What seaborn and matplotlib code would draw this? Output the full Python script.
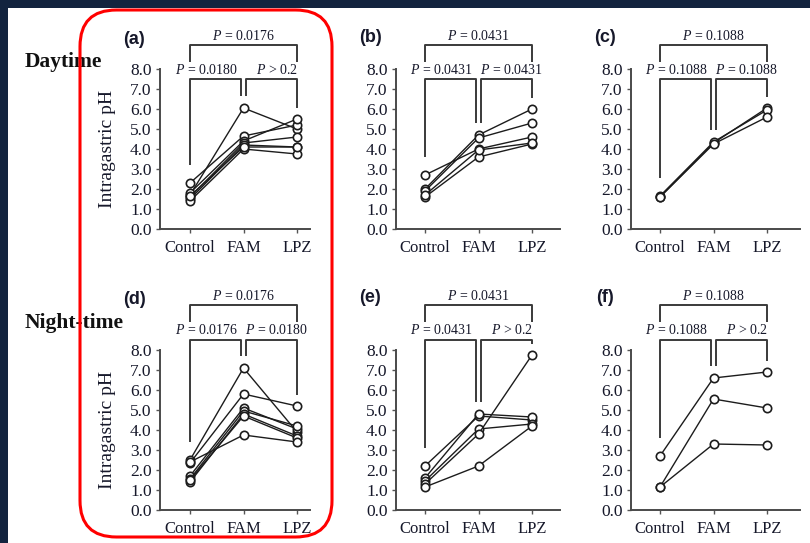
import matplotlib
matplotlib.use("Agg")
import matplotlib.pyplot as plt
import seaborn as sns
import pandas as pd
from matplotlib.patches import FancyBboxPatch, Rectangle

# ---------------- data ----------------
categories = ["Control", "FAM", "LPZ"]
y_ticks = [0, 1, 2, 3, 4, 5, 6, 7, 8]

# (a) Daytime, n=7
a_control = [1.7, 2.3, 1.8, 1.6, 1.5, 1.4, 1.65]
a_fam = [6.05, 4.65, 4.4, 4.3, 4.2, 4.0, 4.1]
a_lpz = [5.0, 5.2, 5.5, 4.6, 4.1, 3.75, 4.1]
# (b) Daytime, n=5
b_control = [2.7, 2.0, 1.9, 1.6, 1.7]
b_fam = [4.0, 4.7, 4.55, 3.6, 3.95]
b_lpz = [4.6, 6.0, 5.3, 4.25, 4.3]
# (c) Daytime, n=3
c_control = [1.6, 1.65, 1.6]
c_fam = [4.3, 4.35, 4.25]
c_lpz = [6.05, 5.95, 5.6]
# (d) Night-time, n=7
d_control = [2.5, 2.35, 1.7, 1.55, 1.4, 1.5, 2.4]
d_fam = [7.1, 5.8, 5.1, 4.95, 4.8, 4.7, 3.75]
d_lpz = [3.9, 5.2, 4.05, 4.2, 3.7, 3.6, 3.4]
# (e) Night-time, n=5
e_control = [2.2, 1.6, 1.45, 1.3, 1.15]
e_fam = [4.7, 4.8, 4.05, 3.8, 2.2]
e_lpz = [4.5, 4.65, 4.3, 7.75, 4.2]
# (f) Night-time, n=3
f_control = [2.7, 1.15, 1.15]
f_fam = [6.6, 5.55, 3.3]
f_lpz = [6.9, 5.1, 3.25]

# p-value labels: [Control vs LPZ, Control vs FAM, FAM vs LPZ]
a_p = ["= 0.0176", "= 0.0180", "> 0.2"]
b_p = ["= 0.0431", "= 0.0431", "= 0.0431"]
c_p = ["= 0.1088", "= 0.1088", "= 0.1088"]
d_p = ["= 0.0176", "= 0.0176", "= 0.0180"]
e_p = ["= 0.0431", "= 0.0431", "> 0.2"]
f_p = ["= 0.1088", "= 0.1088", "> 0.2"]

panel_labels = ["(a)", "(b)", "(c)", "(d)", "(e)", "(f)"]
row_labels = ["Daytime", "Night-time"]
y_label = "Intragastric pH"

panels = [
    (a_control, a_fam, a_lpz, a_p),
    (b_control, b_fam, b_lpz, b_p),
    (c_control, c_fam, c_lpz, c_p),
    (d_control, d_fam, d_lpz, d_p),
    (e_control, e_fam, e_lpz, e_p),
    (f_control, f_fam, f_lpz, f_p),
]

# ---------------- style ----------------
sns.set_theme(style="ticks")
plt.rcParams["font.family"] = ["Liberation Serif", "DejaVu Serif"]
plt.rcParams["mathtext.fontset"] = "custom"
plt.rcParams["mathtext.it"] = "Liberation Serif:italic"
plt.rcParams["mathtext.rm"] = "Liberation Serif"

W, H = 810, 543
fig = plt.figure(figsize=(W / 100, H / 100), dpi=100)
fig.patch.set_facecolor("white")

navy = "#13243f"
txt = "#16182a"
line_c = "#1c1c1c"
brk_c = "#3a3a3a"

# column pixel layout: axis left, axis right, Control position
col_px = [(160, 310, 190), (396, 560, 425), (631, 800, 660)]
row_px = [(69, 229), (350, 510)]
step = 53.5

# bracket levels per row (data units)
row_br = [
    dict(top=9.2, top_leg=8.37, top_txt=9.65, mid=7.5, mid_txt=7.95),
    dict(top=10.25, top_leg=9.4, top_txt=10.72, mid=8.5, mid_txt=8.98),
]

for i, (ctrl, fam, lpz, pl) in enumerate(panels):
    r, c = divmod(i, 3)
    left, right, cpx = col_px[c]
    top, bot = row_px[r]
    ax = fig.add_axes([left / W, 1 - bot / H, (right - left) / W, (bot - top) / H])

    rows = []
    for s in range(len(ctrl)):
        for k, vals in enumerate((ctrl, fam, lpz)):
            rows.append(dict(subject=s, pos=k, pH=vals[s]))
    df = pd.DataFrame(rows)

    sns.lineplot(data=df, x="pos", y="pH", units="subject", estimator=None,
                 color=line_c, lw=1.0, marker="o", markersize=6,
                 markerfacecolor="white", markeredgecolor=line_c,
                 markeredgewidth=1.2, legend=False, ax=ax)

    ax.set_xlim((left - cpx) / step, (right - cpx) / step)
    ax.set_ylim(0, 8)
    ax.set_xticks(range(len(categories)))
    ax.set_xticklabels(categories, fontsize=12, color=txt)
    ax.set_yticks(y_ticks)
    ax.set_yticklabels([f"{v:.1f}" for v in y_ticks], fontsize=12.5, color=txt)
    ax.tick_params(axis="both", length=3, width=1, color="#555555", pad=3)
    ax.tick_params(axis="x", pad=5)
    ax.set_xlabel("")
    ax.set_ylabel(y_label if c == 0 else "", fontsize=14, color=txt, labelpad=10)
    for sp in ("top", "right"):
        ax.spines[sp].set_visible(False)
    for sp in ("left", "bottom"):
        ax.spines[sp].set_color("#4a4a4a")
        ax.spines[sp].set_linewidth(1.4)

    # significance brackets
    br = row_br[r]
    kw = dict(color=brk_c, lw=1.4, clip_on=False, solid_capstyle="butt")
    leg_c = max(ctrl) + 0.9
    leg_f = max(fam) + 0.6
    leg_l = max(lpz) + 0.55
    ax.plot([0, 0, 2, 2], [br["top_leg"], br["top"], br["top"], br["top_leg"]], **kw)
    g = 0.04
    ax.plot([0, 0, 1 - g, 1 - g], [leg_c, br["mid"], br["mid"], leg_f], **kw)
    ax.plot([1 + g, 1 + g, 2, 2], [leg_f, br["mid"], br["mid"], leg_l], **kw)
    ax.text(1, br["top_txt"], "$P$ " + pl[0], ha="center", va="center",
            fontsize=10, color=txt, clip_on=False)
    ax.text(0.3, br["mid_txt"], "$P$ " + pl[1], ha="center", va="center",
            fontsize=10, color=txt, clip_on=False)
    ax.text(1.62, br["mid_txt"], "$P$ " + pl[2], ha="center", va="center",
            fontsize=10, color=txt, clip_on=False)

# panel labels
lab_px = [(134, 39), (370, 38), (605, 38), (135, 299), (370, 298), (605, 298)]
for lab, (x, y) in zip(panel_labels, lab_px):
    fig.text(x / W, 1 - y / H, lab, ha="center", va="center", fontsize=13,
             fontweight="bold", family=["Liberation Sans", "DejaVu Sans"], color=txt)

# row labels
fig.text(25 / W, 1 - 62 / H, row_labels[0], ha="left", va="center", fontsize=15.5,
         fontweight="bold", color="#111111")
fig.text(25 / W, 1 - 323 / H, row_labels[1], ha="left", va="center", fontsize=15.5,
         fontweight="bold", color="#111111")

# red rounded highlight box
box = FancyBboxPatch((80 / W, 1 - 537 / H), (332 - 80) / W, (537 - 10) / H,
                     boxstyle="round,pad=0,rounding_size=0.045",
                     transform=fig.transFigure, fill=False, edgecolor="#ff0000",
                     linewidth=2.2, zorder=10, mutation_aspect=W / H)
fig.patches.append(box)

# dark frame strips (top and left)
fig.patches.append(Rectangle((0, 1 - 8 / H), 1, 8 / H, transform=fig.transFigure,
                             facecolor=navy, edgecolor="none", zorder=11))
fig.patches.append(Rectangle((0, 0), 8 / W, 1, transform=fig.transFigure,
                             facecolor=navy, edgecolor="none", zorder=11))

fig.savefig("out.png", dpi=100)
